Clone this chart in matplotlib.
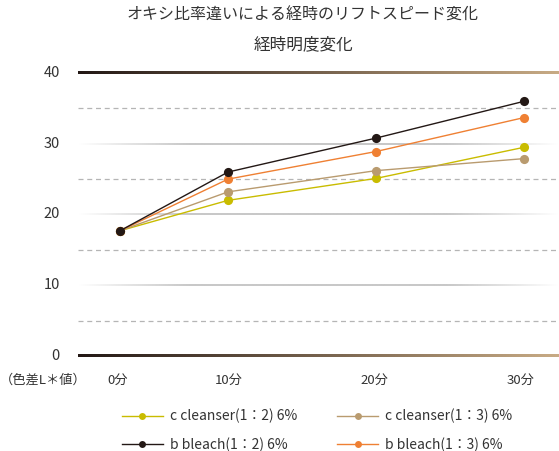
import numpy as np
import matplotlib.pyplot as plt
from matplotlib.colors import to_rgba
from matplotlib.lines import Line2D

plt.rcParams['font.family'] = ['Noto Sans CJK JP', 'DejaVu Sans']

# data
times = ['0分', '10分', '20分', '30分']
c_cleanser_12 = [17.7, 22.0, 25.1, 29.5]
c_cleanser_13 = [17.7, 23.2, 26.2, 27.9]
b_bleach_12 = [17.7, 26.0, 30.8, 36.0]
b_bleach_13 = [17.7, 25.0, 28.9, 33.7]
labels = ['c cleanser(1：2) 6%', 'c cleanser(1：3) 6%',
          'b bleach(1：2) 6%', 'b bleach(1：3) 6%']
yticks = [0, 10, 20, 30, 40]

# layout (the first point sits closer than the others in the original)
x_pos = [0.27, 1, 2, 3]
colors = ['#c9bc00', '#b99b6f', '#231815', '#ef8033']
txt = '#333333'

W, H = 559, 451
fig = plt.figure(figsize=(W / 100, H / 100), dpi=100)
ax = fig.add_axes([78 / W, (H - 356) / H, (W - 78) / W, 283 / H])
XL = (-0.0135, 3.236)
px = 40 / 283  # one pixel in y data units


def grad_line(y, c0, c1, thick, fade=False):
    n = 256
    t = np.linspace(0, 1, n)
    a = np.array(to_rgba(c0))
    b = np.array(to_rgba(c1))
    g = a[None, :] + (b - a)[None, :] * t[:, None]
    if fade:
        g[:, 3] = np.clip(np.sin(np.pi * t) * 1.5, 0, 1)
    im = ax.imshow(g[None, :, :], extent=(XL[0], XL[1], y - thick * px / 2, y + thick * px / 2),
                   aspect='auto', interpolation='bilinear', zorder=1)
    im.set_clip_on(False)


# grid
for y in [5, 15, 25, 35]:
    ax.axhline(y, color='#b5b5b5', lw=0.9, ls=(0, (4, 3)), zorder=1)
for y in [10, 20, 30]:
    grad_line(y, '#c8c8c8', '#c8c8c8', 1.6, fade=True)
for y in [0, 40]:
    grad_line(y, '#231815', '#c8ab85', 2.2)

all_series = [c_cleanser_12, c_cleanser_13, b_bleach_12, b_bleach_13]
for k in [0, 1, 3, 2]:
    ax.plot(x_pos, all_series[k], color=colors[k], lw=1.0, marker='o', ms=6.6, mew=0,
            zorder=5 if k == 2 else 3 + k % 2, clip_on=False)

ax.set_xlim(*XL)
ax.set_ylim(0, 40)
ax.axis('off')

# y tick labels
for y in yticks:
    fig.text(60 / W, (H - 356) / H + y / 40 * 283 / H, str(y), ha='right', va='center',
             fontsize=10.5, color=txt)

# x labels
for lab, xp in zip(times, [118, 229, 374, 521]):
    fig.text(xp / W, 1 - 380 / H, lab, ha='center', va='center', fontsize=9.5, color=txt)
fig.text(43 / W, 1 - 380 / H, '（色差L＊値）', ha='center', va='center', fontsize=9.5, color=txt)

# title
fig.text(303 / W, 1 - 15 / H, 'オキシ比率違いによる経時のリフトスピード変化', ha='center', va='center',
         fontsize=11.5, color=txt)
fig.text(303 / W, 1 - 45 / H, '経時明度変化', ha='center', va='center', fontsize=12, color=txt)

# legend
handles = [Line2D([], [], color=c, lw=1.0, marker='o', ms=5, mew=0) for c in colors]
leg_order = [0, 2, 1, 3]
fig.legend([handles[i] for i in leg_order], [labels[i] for i in leg_order], ncol=2,
           loc='center left', bbox_to_anchor=(122 / W, 1 - 430.5 / H), frameon=False,
           fontsize=10, handlelength=2.95, handletextpad=0.5, columnspacing=2.9,
           labelspacing=1.0, labelcolor=txt, borderpad=0, borderaxespad=0)

fig.savefig('out.png', dpi=100)
